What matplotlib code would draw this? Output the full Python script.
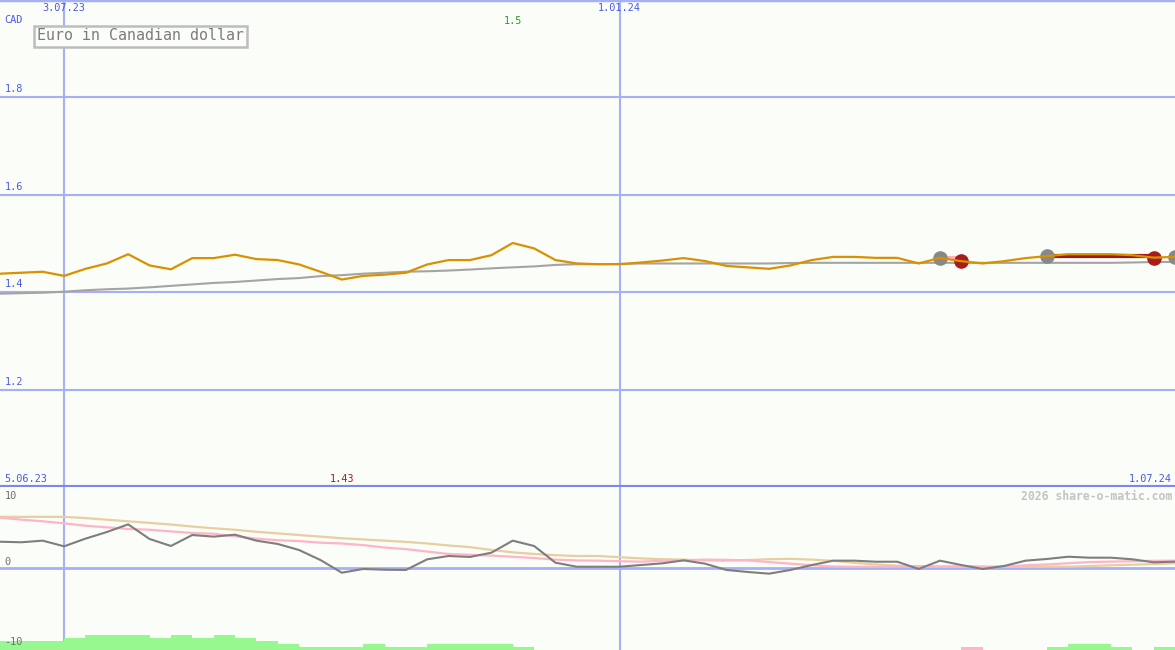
import matplotlib.pyplot as plt
import numpy as np
import pandas as pd

# weekly closes, Euro in CAD
weeks = pd.date_range("2023-06-12", periods=56, freq="7D")
price = [1.438, 1.440, 1.442, 1.4335, 1.448, 1.459, 1.478, 1.455, 1.447, 1.470,
         1.470, 1.477, 1.468, 1.466, 1.457, 1.442, 1.426, 1.4335, 1.436, 1.440,
         1.457, 1.466, 1.466, 1.476, 1.501, 1.490, 1.466, 1.459, 1.4575, 1.4575,
         1.461, 1.465, 1.470, 1.464, 1.454, 1.451, 1.448, 1.455, 1.466, 1.4725,
         1.4725, 1.4705, 1.4705, 1.459, 1.4705, 1.4637, 1.459, 1.4637, 1.470, 1.474,
         1.478, 1.478, 1.478, 1.476, 1.471, 1.4725]
avg = [1.397, 1.398, 1.399, 1.401, 1.404, 1.406, 1.4075, 1.410, 1.413, 1.416,
       1.419, 1.421, 1.424, 1.427, 1.429, 1.433, 1.435, 1.438, 1.440, 1.442,
       1.443, 1.4445, 1.4465, 1.449, 1.451, 1.453, 1.456, 1.4575, 1.4575, 1.458,
       1.459, 1.459, 1.459, 1.459, 1.459, 1.459, 1.459, 1.460, 1.4603, 1.4603,
       1.4603, 1.4603, 1.4603, 1.4603, 1.4603, 1.4603, 1.4603, 1.4603, 1.4603, 1.4603,
       1.4603, 1.4603, 1.4603, 1.461, 1.462, 1.462]

# lower panel
osc = [3.22, 3.15, 3.35, 2.65, 3.6, 4.42, 5.37, 3.56, 2.69, 4.05,
       3.85, 4.09, 3.35, 2.94, 2.19, 0.95, -0.62, -0.16, -0.25, -0.28,
       1.04, 1.45, 1.33, 1.86, 3.35, 2.69, 0.62, 0.12, 0.12, 0.12,
       0.33, 0.54, 0.91, 0.50, -0.28, -0.53, -0.74, -0.28, 0.33, 0.87,
       0.87, 0.74, 0.74, -0.16, 0.87, 0.33, -0.16, 0.21, 0.87, 1.08,
       1.36, 1.24, 1.24, 1.04, 0.67, 0.74]
osc_slow = [6.3, 6.3, 6.3, 6.3, 6.15, 5.95, 5.75, 5.55, 5.35, 5.1,
            4.88, 4.7, 4.45, 4.25, 4.05, 3.85, 3.65, 3.5, 3.35, 3.2,
            3.0, 2.75, 2.55, 2.2, 1.9, 1.7, 1.55, 1.45, 1.45, 1.3,
            1.15, 1.05, 1.0, 0.9, 0.87, 0.95, 1.05, 1.1, 1.0, 0.85,
            0.6, 0.4, 0.25, 0.15, 0.12, 0.2, 0.15, 0.12, 0.12, 0.12,
            0.12, 0.2, 0.3, 0.37, 0.45, 0.55]
osc_sig = [6.2, 5.95, 5.75, 5.5, 5.2, 5.0, 4.8, 4.7, 4.5, 4.3,
           4.2, 3.9, 3.6, 3.4, 3.3, 3.1, 3.0, 2.8, 2.5, 2.3,
           2.0, 1.7, 1.6, 1.5, 1.35, 1.2, 1.0, 0.9, 0.87, 0.8,
           0.75, 0.85, 0.91, 1.0, 0.97, 0.9, 0.7, 0.5, 0.3, 0.15,
           0.12, 0.12, 0.15, 0.2, 0.15, 0.12, 0.08, 0.1, 0.3, 0.4,
           0.55, 0.7, 0.75, 0.8, 0.85, 0.87]
vol_up = [3, 3, 3, 4, 5, 5, 5, 4, 5, 4, 5, 4, 3, 2, 1, 1, 1, 2, 1, 1,
          2, 2, 2, 2, 1, 0, 0, 0, 0, 0, 0, 0, 0, 0, 0, 0, 0, 0, 0, 0,
          0, 0, 0, 0, 0, 0, 0, 0, 0, 1, 2, 2, 1, 0, 1, 0]
vol_dn = [0] * 45 + [1] + [0] * 10

buy_idx = [44, 49, 55]
sell_idx = [45, 54]
trades = [(44, 45, "#ffb0c0"), (49, 54, "#a01818")]

bg = "#fbfdf8"
grid_c = "#a6b0f6"
lab_c = "#4a5ae6"
mono = "DejaVu Sans Mono"

W, H = 1175, 650
fig = plt.figure(figsize=(W / 100, H / 100), dpi=100, facecolor=bg)
ax1 = fig.add_axes([0, 163 / H, 1, 487 / H], facecolor=bg)
ax2 = fig.add_axes([0, 0, 1, 163 / H], facecolor=bg)

x0, x1 = weeks[0], weeks[-1]
marks = [pd.Timestamp("2023-07-03"), pd.Timestamp("2024-01-01")]

for ax in (ax1, ax2):
    ax.set_xlim(x0, x1)
    ax.set_xticks([])
    ax.set_yticks([])
    for s in ax.spines.values():
        s.set_visible(False)
    for m in marks:
        ax.axvline(m, color=grid_c, lw=1.5, zorder=1)

# upper panel
ax1.set_ylim(1.0, 2.0)
for v in [1.2, 1.4, 1.6, 1.8]:
    ax1.axhline(v, color=grid_c, lw=1.5, zorder=1)
    ax1.text(0.004, v + 0.006, f"{v:.1f}", transform=ax1.get_yaxis_transform(),
             color=lab_c, fontsize=7.4, family=mono, va="bottom")
ax1.axhline(2.0, color=grid_c, lw=2.5, zorder=1)
ax1.axhline(1.0, color="#7a88ee", lw=3, zorder=5, clip_on=False)

ax1.plot(weeks, avg, color="#a4a4a4", lw=1.5, zorder=2)
for b, s, c in trades:
    ax1.plot([weeks[b], weeks[s]], [price[b], price[b]], color=c, lw=3, zorder=3)
ax1.plot(weeks[buy_idx], [price[i] for i in buy_idx], "o", ms=9.5,
         color="#888888", zorder=3, clip_on=False)
ax1.plot(weeks[sell_idx], [price[i] for i in sell_idx], "o", ms=9.5,
         color="#a81c1c", zorder=3, clip_on=False)
ax1.plot(weeks, price, color="#d99100", lw=1.6, zorder=4)

top = ax1.get_xaxis_transform()
for m in marks:
    ax1.text(m, 1 - 8 / 487, f"{m.day}.{m.month:02d}.{m.year % 100}", transform=top,
             color=lab_c, fontsize=7.4, family=mono, ha="center", va="center")
ax1.text(0.004, 1 - 20 / 487, "CAD", transform=ax1.transAxes, color=lab_c,
         fontsize=7.4, family=mono, va="center")
ax1.text(0.004, 8 / 487, "5.06.23", transform=ax1.transAxes, color=lab_c,
         fontsize=7.4, family=mono, va="center")
ax1.text(0.9975, 8 / 487, "1.07.24", transform=ax1.transAxes, color=lab_c,
         fontsize=7.4, family=mono, va="center", ha="right")
imax = int(np.argmax(price))
imin = int(np.argmin(price))
ax1.text(weeks[imax], 1 - 21 / 487, f"{price[imax]:.3g}", transform=top,
         color="#22a022", fontsize=7.4, family=mono, ha="center", va="center")
ax1.text(weeks[imin], 8 / 487, f"{price[imin]:.3g}", transform=top,
         color="#aa1c1c", fontsize=7.4, family=mono, ha="center", va="center")
ax1.text(37 / W, 1 - 36 / 487, "Euro in Canadian dollar", transform=ax1.transAxes,
         color="#7c7c7c", fontsize=10.8, family=mono, va="center",
         bbox=dict(boxstyle="square,pad=0.2", fc=bg, ec="#bdbdbd", lw=1.8))

# lower panel
ax2.set_ylim(-10.2, 10)
ax2.axhline(0, color=grid_c, lw=2, zorder=1)
unit = 0.37
ax2.bar(weeks, [v * unit for v in vol_up], width=7, align="edge", bottom=-10.2,
        color="#98f890", zorder=2)
ax2.bar(weeks, [v * unit for v in vol_dn], width=7, align="edge", bottom=-10.2,
        color="#ffb6c8", zorder=2)
ax2.plot(weeks, osc_slow, color="#e6cfa0", lw=1.6, zorder=3)
ax2.plot(weeks, osc_sig, color="#ffb4c8", lw=1.6, zorder=3)
ax2.plot(weeks, osc, color="#7e7e7e", lw=1.5, zorder=4)

for t, py in [("10", 496), ("0", 562), ("-10", 642)]:
    ax2.text(0.004, 1 - (py - 487) / 163, t, transform=ax2.transAxes,
             color="#707070", fontsize=7.4, family=mono, va="center")
ax2.text(0.9975, 1 - 9 / 163, "2026 share-o-matic.com", transform=ax2.transAxes,
         color="#c4c4c4", fontsize=8.3, family=mono, weight="bold",
         va="center", ha="right")

fig.savefig("out.png", dpi=100, facecolor=bg)
